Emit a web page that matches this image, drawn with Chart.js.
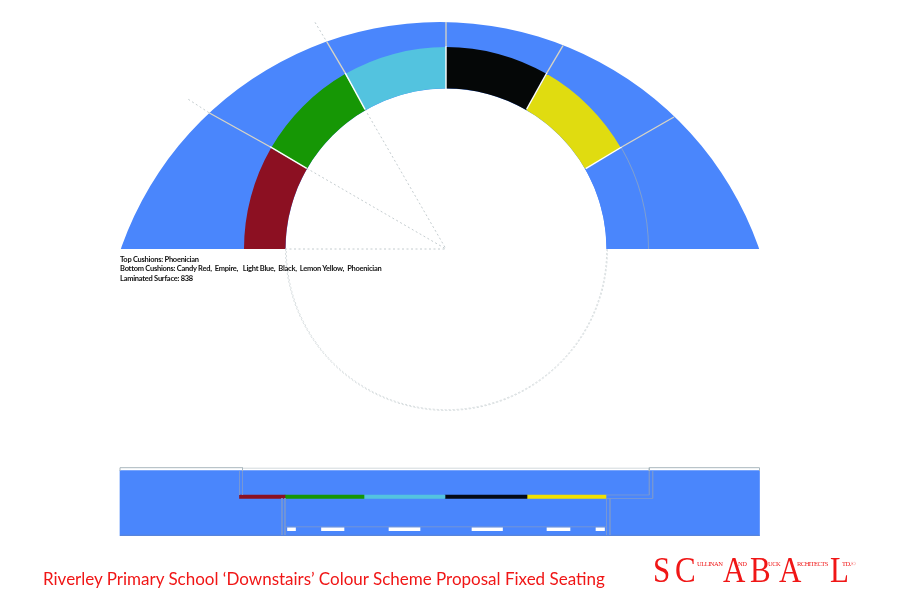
<!DOCTYPE html>
<html>
<head>
<meta charset="utf-8">
<title>Riverley Primary School Colour Scheme</title>
<script src="https://cdn.jsdelivr.net/npm/chart.js@4"></script>
<style>
  html, body { margin: 0; padding: 0; background: #fff; }
  #page { position: relative; width: 900px; height: 600px; overflow: hidden; }
  .layer { position: absolute; }
  #clipTop { position: absolute; left: 0; top: 0; width: 900px; height: 249px; overflow: hidden; }
  .note { position: absolute; left: 120px; font: 700 7.5px Lato, sans-serif; letter-spacing: -0.26px; color: #111; white-space: pre; line-height: 10px; }
  #title { position: absolute; left: 43px; top: 568px; font: 17px Lato, sans-serif; color: #f01616; white-space: pre; }
  .logo { position: absolute; font-family: "Liberation Serif", serif; color: #f01616; white-space: pre; line-height: 1; transform-origin: left top; }
  .big { font-size: 36px; top: 552px; transform: scaleX(0.86); }
  .small { font-size: 6.5px; top: 561px; letter-spacing: -0.5px; }
</style>
</head>
<body>
<div id="page">
  <div id="clipTop"><canvas id="bandChart" class="layer" width="676" height="676" style="left:102px;top:22px"></canvas></div>
  <canvas id="ringChart" class="layer" width="406" height="406" style="left:243px;top:46px"></canvas>
  <canvas id="circleChart" class="layer" width="323" height="323" style="left:284.5px;top:87.5px"></canvas>
  <canvas id="drawing" class="layer" width="900" height="600" style="left:0;top:0"></canvas>

  <div class="note" style="top:255px">Top Cushions: Phoenician</div>
  <div class="note" style="top:264.3px">Bottom Cushions: Candy Red,  Empire,   Light Blue,  Black,  Lemon Yellow,  Phoenician</div>
  <div class="note" style="top:273.5px">Laminated Surface: 838</div>

  <div id="title">Riverley Primary School ‘Downstairs’ Colour Scheme Proposal Fixed Seating</div>

  <span class="logo big" style="left:652.5px">S</span>
  <span class="logo big" style="left:674.5px">C</span>
  <span class="logo small" style="left:697px">ULLINAN</span>
  <span class="logo big" style="left:722.5px">A</span>
  <span class="logo small" style="left:738px">ND</span>
  <span class="logo big" style="left:749.5px">B</span>
  <span class="logo small" style="left:768px">UCK</span>
  <span class="logo big" style="left:779px">A</span>
  <span class="logo small" style="left:797px">RCHITECTS</span>
  <span class="logo big" style="left:830px">L</span>
  <span class="logo small" style="left:842px">TD.©</span>
</div>

<script>
// シート色
const cushionNames = ["Candy Red", "Empire", "Light Blue", "Black", "Lemon Yellow", "Phoenician", "rest"];
const cushionDegrees = [30, 30, 30, 30, 30, 30, 180];
const cushionColours = ["#8c1022", "#169705", "#53c3df", "#050707", "#e0dc10", "#4a86fc", "transparent"];
const seamColours = ["transparent", "transparent", "transparent", "transparent", "transparent", "#7f9fd0", "transparent"];
const topColour = "#4a86fc";

// elevation, x / y
const cushionEdges = [239.5, 285, 364, 445, 527, 606];
const cushionBarColours = ["#8c1022", "#169705", "#53c3df", "#050a14", "#f0e000"];
const gapSpans = [[287.5, 295.5], [321.5, 344], [389, 420], [472, 502.5], [547, 570], [596, 604.5]];
const stripSpan = [120, 759.5];

// ray lines: outer end, ring edge, inner end
const rays = [
  [[209, 112.7], [270, 146.7], [306.7, 168.3]],
  [[326.7, 41.7], [345, 72.7], [365, 109.3]],
  [[446, 22], [446, 46], [446, 89]],
  [[563, 45.7], [547, 72.7], [526.7, 109]],
  [[674, 117], [621.7, 147], [585.7, 168.7]]
];
const dashedRays = [
  [[188.3, 99.3], [209, 112.7]],
  [[306.7, 168.3], [446, 249]],
  [[315, 22.3], [326.7, 41.7]],
  [[365, 109.3], [446, 249]],
  [[285, 249], [446, 249]]
];
const outlineDark = [
  [[120, 471], [120, 467.7], [242.5, 467.7], [242.5, 471]],
  [[759.5, 471], [759.5, 467.7], [649.3, 467.7], [649.3, 471]]
];
const outlineBlue = [
  [[239.5, 471], [239.5, 495]],
  [[242.5, 471], [242.5, 495]],
  [[649.3, 471], [649.3, 495], [606, 495]],
  [[652.7, 471], [652.7, 498.5], [606, 498.5]],
  [[282, 498], [282, 535]],
  [[285, 498], [285, 535]],
  [[606.5, 498], [606.5, 535]],
  [[610, 498], [610, 535]],
  [[285, 526.8], [606.5, 526.8]]
];
const topLine = [[242.5, 468.2], [649.3, 468.2]];
const bottomLine = [[120, 535.3], [759.5, 535.3]];

Chart.defaults.animation = false;
const quiet = { legend: { display: false }, tooltip: { enabled: false } };

new Chart(document.getElementById("bandChart"), {
  type: "pie",
  data: { labels: ["Phoenician"], datasets: [{ data: [360], backgroundColor: topColour, borderWidth: 0 }] },
  options: { responsive: false, plugins: quiet }
});

new Chart(document.getElementById("ringChart"), {
  type: "doughnut",
  data: {
    labels: cushionNames,
    datasets: [
      { data: cushionDegrees, backgroundColor: seamColours, borderWidth: 0, weight: 1 },
      { data: cushionDegrees, backgroundColor: cushionColours, borderWidth: 0, weight: 41.5 },
      { data: [360], backgroundColor: "#ffffff", borderWidth: 0, weight: 160.5 }
    ]
  },
  options: { responsive: false, rotation: -90, cutout: 0, plugins: quiet }
});

new Chart(document.getElementById("circleChart"), {
  type: "doughnut",
  data: {
    labels: ["lower", "upper"],
    datasets: [{
      data: [180, 180],
      backgroundColor: "transparent",
      borderColor: ["#d5dbdd", "transparent"],
      borderWidth: 1,
      borderDash: [2, 2]
    }]
  },
  options: { responsive: false, rotation: 90, cutout: "99.5%", plugins: quiet }
});

function bar(span, y, thick, colour, order) {
  return { type: "bar", data: [{ x: span, y: y }], backgroundColor: colour, barThickness: thick, grouped: false, order: order };
}
function line(points, colour, width, dash) {
  return {
    type: "line",
    indexAxis: "x",
    data: points.map(p => ({ x: p[0], y: p[1] })),
    borderColor: colour, borderWidth: width, borderDash: dash || [], pointRadius: 0, tension: 0, order: 1
  };
}

const sets = [];
sets.push(bar(stripSpan, 503.2, 65, topColour, 6));
cushionBarColours.forEach((c, i) => sets.push(bar([cushionEdges[i], cushionEdges[i + 1]], 496.7, 3.4, c, 5)));
gapSpans.forEach(s => sets.push(bar(s, 529.2, 3, "#ffffff", 5)));
rays.forEach(r => {
  sets.push(line([r[0], r[1]], "#d9d5c4", 1.3));
  sets.push(line([r[1], r[2]], "#ffffff", 1.4));
});
dashedRays.forEach(r => sets.push(line(r, "#c4cccf", 1, [2, 2.5])));
outlineDark.forEach(o => sets.push(line(o, "#a9b7bd", 1)));
outlineBlue.forEach(o => sets.push(line(o, "#7797d4", 0.9)));
sets.push(line(topLine, "#d3d9dc", 1));
sets.push(line(bottomLine, "#5c85d4", 1));

new Chart(document.getElementById("drawing"), {
  type: "bar",
  data: { datasets: sets },
  options: {
    indexAxis: "y",
    responsive: false,
    layout: { padding: 0 },
    plugins: quiet,
    scales: {
      x: { type: "linear", min: 0, max: 900, display: false, offset: false },
      y: { type: "linear", min: 0, max: 600, reverse: true, display: false, offset: false }
    }
  }
});
</script>
</body>
</html>
